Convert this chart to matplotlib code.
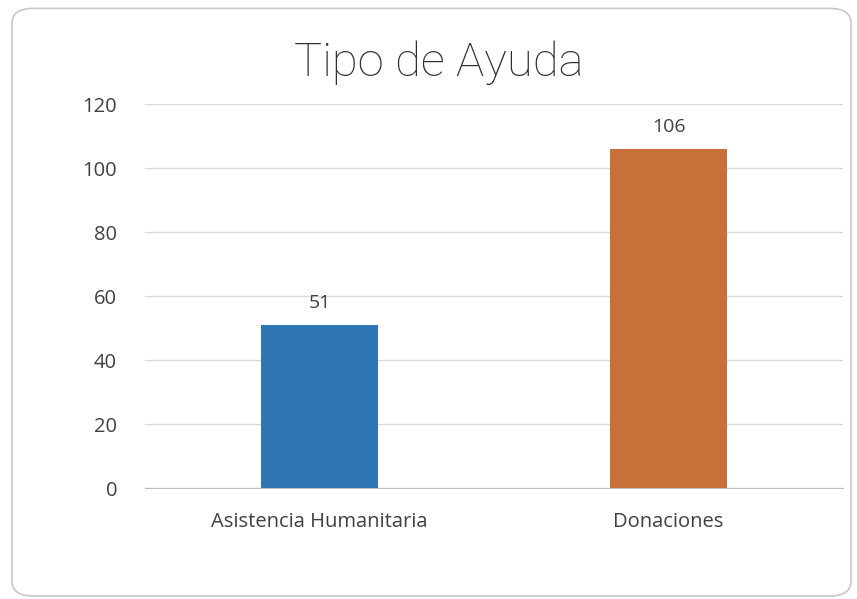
import matplotlib
matplotlib.use('Agg')
import matplotlib.pyplot as plt
from matplotlib.patches import FancyBboxPatch

categories = ['Asistencia Humanitaria', 'Donaciones']
values = [51, 106]
colors = ['#2f76b4', '#c8703a']
yticks = [0, 20, 40, 60, 80, 100, 120]

fig = plt.figure(figsize=(8.57, 5.99), dpi=100)
fig.patch.set_facecolor('white')

# rounded chart border
border = FancyBboxPatch((0.014, 0.005), 0.979, 0.981,
                        boxstyle='round,pad=0,rounding_size=0.025',
                        transform=fig.transFigure, fill=False,
                        edgecolor='#c8c8c8', linewidth=1.2)
fig.patches.append(border)

ax = fig.add_axes([0.169, 0.185, 0.815, 0.641])
x = range(len(categories))
bars = ax.bar(x, values, width=0.335, color=colors, zorder=3)

for xi, v in zip(x, values):
    ax.text(xi, v + 4, str(v), ha='center', va='bottom',
            fontsize=14, color='#404040', family='Open Sans')

ax.set_xlim(-0.5, 1.5)
ax.set_ylim(0, 120)
ax.set_yticks(yticks)
ax.set_xticks(list(x))
ax.set_xticklabels(categories)
ax.grid(axis='y', color='#d9d9d9', linewidth=1, zorder=0)
for s in ['top', 'right', 'left']:
    ax.spines[s].set_visible(False)
ax.spines['bottom'].set_color('#bfbfbf')
ax.tick_params(length=0, labelsize=14.5, labelcolor='#404040')
ax.tick_params(axis='y', pad=20)
ax.tick_params(axis='x', pad=17)
for lab in ax.get_xticklabels() + ax.get_yticklabels():
    lab.set_family('Open Sans')

fig.text(0.512, 0.895, 'Tipo de Ayuda', ha='center', va='center',
         fontsize=34, color='#303030', family='Roboto', fontweight='light')

fig.savefig('out.png', dpi=100)
